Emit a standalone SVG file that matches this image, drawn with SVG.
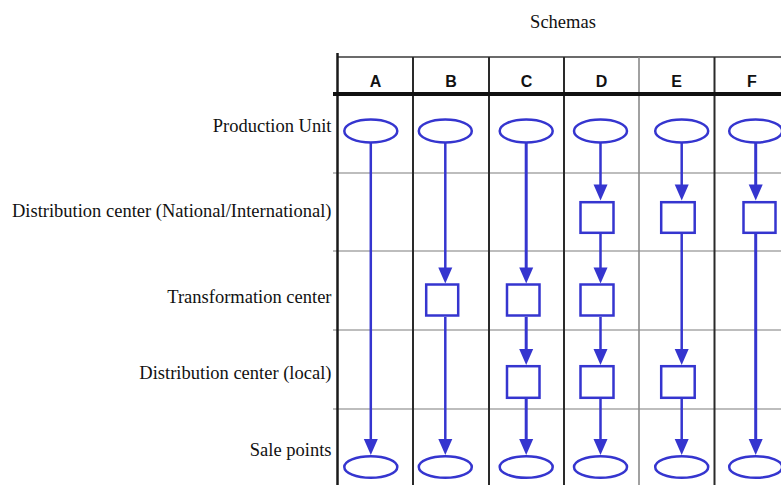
<svg xmlns="http://www.w3.org/2000/svg" width="781" height="485" viewBox="0 0 781 485">
  <style>
    .lbl { font-family: "Liberation Serif", "Times New Roman", serif; font-size: 18.5px; fill: #111; }
    .row { text-anchor: end; }
    .hdr { font-family: "Liberation Sans", Arial, sans-serif; font-size: 16px; font-weight: bold; fill: #111; text-anchor: middle; }
    .grid { stroke: #bdbdbd; stroke-width: 2; fill: none; }
    .col { stroke: #2a2a2a; stroke-width: 2; fill: none; }
    .col-light { stroke: #8a8a8a; stroke-width: 1.6; fill: none; }
    .node { fill: #fff; stroke: #3535cf; stroke-width: 2.5; }
    .edge { stroke: #3535cf; stroke-width: 2.5; fill: none; marker-end: url(#arrow); }
    .edge.bold { stroke-width: 3; }
  </style>
  <defs>
    <marker id="arrow" markerUnits="userSpaceOnUse" markerWidth="16" markerHeight="14" refX="4" refY="7" orient="auto" overflow="visible">
      <path d="M0,0 L16,7 L0,14 Z" fill="#3535cf"/>
    </marker>
  </defs>

  <rect width="781" height="485" fill="#fff"/>

  <!-- title -->
  <text class="lbl" x="563" y="28" text-anchor="middle">Schemas</text>

  <!-- table frame -->
  <g id="table">
    <line class="grid" x1="333" y1="173" x2="781" y2="173"/>
    <line class="grid" x1="333" y1="251" x2="781" y2="251"/>
    <line class="grid" x1="333" y1="330" x2="781" y2="330"/>
    <line class="grid" x1="333" y1="409" x2="781" y2="409"/>
    <line x1="337" y1="57" x2="781" y2="57" stroke="#3a3a3a" stroke-width="1.6"/>
    <line x1="337.5" y1="53" x2="337.5" y2="485" stroke="#1a1a1a" stroke-width="2.5"/>
    <line class="col" x1="413" y1="57" x2="413" y2="485"/>
    <line class="col" x1="489" y1="57" x2="489" y2="485"/>
    <line class="col" x1="564" y1="57" x2="564" y2="485"/>
    <line class="col-light" x1="639" y1="57" x2="639" y2="485"/>
    <line class="col" x1="714.5" y1="57" x2="714.5" y2="485"/>
    <line x1="333" y1="94" x2="781" y2="94" stroke="#111" stroke-width="4"/>
    <text class="hdr" x="375.5" y="87">A</text>
    <text class="hdr" x="451" y="87">B</text>
    <text class="hdr" x="526.5" y="87">C</text>
    <text class="hdr" x="601.5" y="87">D</text>
    <text class="hdr" x="676.5" y="87">E</text>
    <text class="hdr" x="752" y="87">F</text>
  </g>

  <!-- row labels -->
  <g id="row-labels">
    <text class="lbl row" x="331.5" y="132.3">Production Unit</text>
    <text class="lbl row" x="331.5" y="217.3">Distribution center (National/International)</text>
    <text class="lbl row" x="331.5" y="303.3">Transformation center</text>
    <text class="lbl row" x="331.5" y="379.3">Distribution center (local)</text>
    <text class="lbl row" x="331.5" y="456">Sale points</text>
  </g>

  <!-- connectors: each line stops 12px short of its target, the arrowhead covers the rest -->
  <g id="connectors">
    <line class="edge" x1="370.8" y1="143" x2="370.8" y2="443"/>

    <line class="edge" x1="445.3" y1="143" x2="445.3" y2="271.5"/>
    <line class="edge" x1="445.3" y1="317" x2="445.3" y2="443"/>

    <line class="edge bold" x1="526.2" y1="143" x2="526.2" y2="271.5"/>
    <line class="edge bold" x1="526.2" y1="317" x2="526.2" y2="353"/>
    <line class="edge bold" x1="526.2" y1="399" x2="526.2" y2="443"/>

    <line class="edge" x1="600.5" y1="143" x2="600.5" y2="188.5"/>
    <line class="edge" x1="600.5" y1="234" x2="600.5" y2="271.5"/>
    <line class="edge" x1="600.5" y1="317" x2="600.5" y2="353"/>
    <line class="edge" x1="600.5" y1="399" x2="600.5" y2="443"/>

    <line class="edge" x1="681.7" y1="143" x2="681.7" y2="188.5"/>
    <line class="edge" x1="681.7" y1="234" x2="681.7" y2="353"/>
    <line class="edge" x1="681.7" y1="399" x2="681.7" y2="443"/>

    <line class="edge bold" x1="755.7" y1="143" x2="755.7" y2="188.5"/>
    <line class="edge bold" x1="755.7" y1="234" x2="755.7" y2="443"/>
  </g>

  <!-- production units -->
  <g id="prod-A"><ellipse class="node" cx="370.8" cy="131" rx="26.5" ry="11.5"/></g>
  <g id="prod-B"><ellipse class="node" cx="445.3" cy="131" rx="26.5" ry="11.5"/></g>
  <g id="prod-C"><ellipse class="node" cx="526.2" cy="131" rx="26.5" ry="11.5"/></g>
  <g id="prod-D"><ellipse class="node" cx="600.5" cy="131" rx="26.5" ry="11.5"/></g>
  <g id="prod-E"><ellipse class="node" cx="681.7" cy="131" rx="26.5" ry="11.5"/></g>
  <g id="prod-F"><ellipse class="node" cx="755.7" cy="131" rx="26.5" ry="11.5"/></g>

  <!-- national / international distribution centers -->
  <g id="natdist-D"><rect class="node" x="580.5" y="202.2" width="33" height="30.6"/></g>
  <g id="natdist-E"><rect class="node" x="661.2" y="202.2" width="33.5" height="30.6"/></g>
  <g id="natdist-F"><rect class="node" x="743.5" y="202.2" width="32" height="30.6"/></g>

  <!-- transformation centers -->
  <g id="transf-B"><rect class="node" x="426.2" y="284.5" width="32" height="31"/></g>
  <g id="transf-C"><rect class="node" x="507" y="284.5" width="32.5" height="31"/></g>
  <g id="transf-D"><rect class="node" x="580.5" y="284.5" width="33" height="31"/></g>

  <!-- local distribution centers -->
  <g id="locdist-C"><rect class="node" x="507" y="366.2" width="32.5" height="31.6"/></g>
  <g id="locdist-D"><rect class="node" x="580.5" y="366.2" width="33" height="31.6"/></g>
  <g id="locdist-E"><rect class="node" x="661.2" y="366.2" width="33.5" height="31.6"/></g>

  <!-- sale points -->
  <g id="sale-A"><ellipse class="node" cx="370.8" cy="467" rx="26.5" ry="10.8"/></g>
  <g id="sale-B"><ellipse class="node" cx="445.3" cy="467" rx="26.5" ry="10.8"/></g>
  <g id="sale-C"><ellipse class="node" cx="526.2" cy="467" rx="26.5" ry="10.8"/></g>
  <g id="sale-D"><ellipse class="node" cx="600.5" cy="467" rx="26.5" ry="10.8"/></g>
  <g id="sale-E"><ellipse class="node" cx="681.7" cy="467" rx="26.5" ry="10.8"/></g>
  <g id="sale-F"><ellipse class="node" cx="755.7" cy="467" rx="26.5" ry="10.8"/></g>
</svg>
